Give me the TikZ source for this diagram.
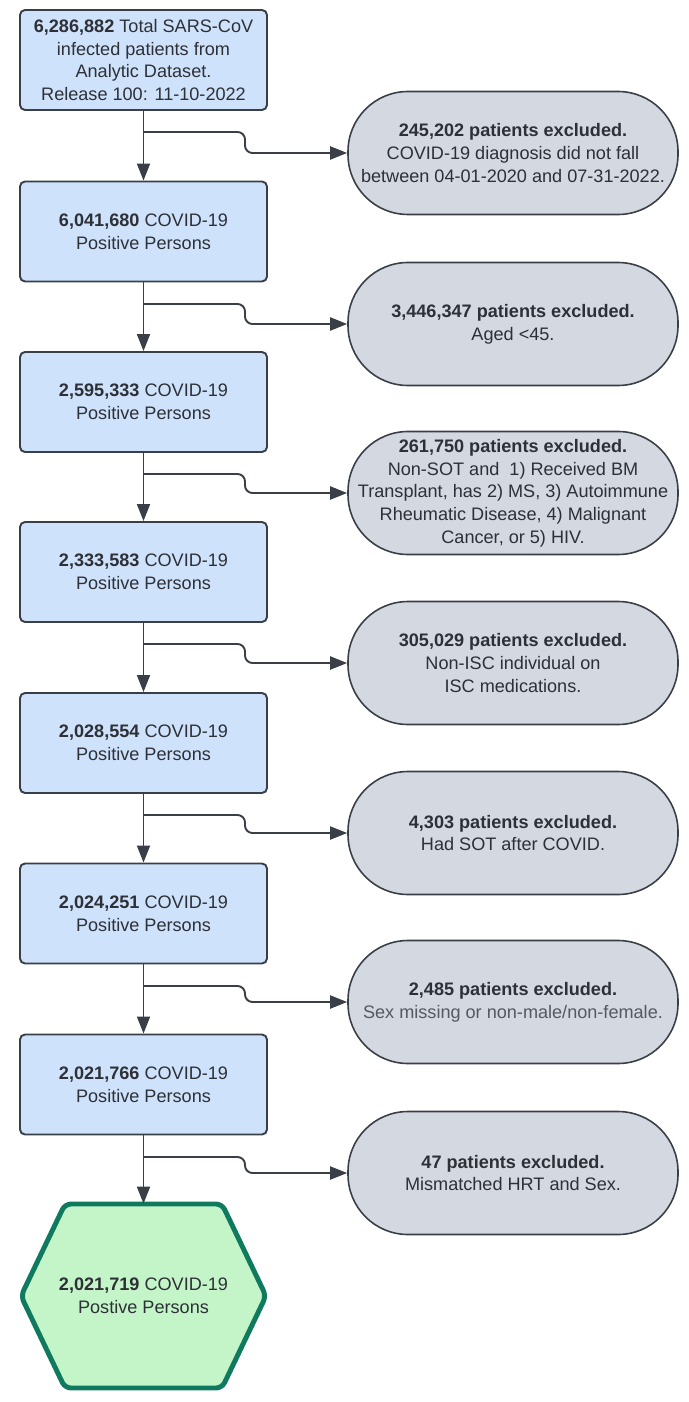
\documentclass[tikz,border=0pt]{standalone}
\usepackage{fontspec}
\setmainfont{Liberation Sans}
\usetikzlibrary{arrows.meta}
\definecolor{boxblue}{RGB}{207,226,251}
\definecolor{exgray}{RGB}{211,216,225}
\definecolor{edge}{RGB}{58,63,71}
\definecolor{ink}{RGB}{45,48,54}
\definecolor{softink}{RGB}{85,89,96}
\definecolor{hexgreen}{RGB}{196,245,201}
\definecolor{hexedge}{RGB}{16,122,94}
\begin{document}
\begin{tikzpicture}[
    countbox/.style={rectangle,rounded corners=0.1cm,draw=edge,fill=boxblue,
      line width=1.1pt,minimum width=4.94cm,minimum height=2cm,align=center,
      text=ink,font=\fontsize{10.3}{12.9}\selectfont},
    exclbox/.style={rectangle,rounded corners=1.2cm,draw=edge,fill=exgray,
      line width=0.9pt,minimum width=6.6cm,minimum height=2.46cm,align=center,
      inner sep=2pt,text=ink,font=\fontsize{10.3}{12.9}\selectfont},
    flow/.style={draw=edge,line width=1.1pt,
      -{Triangle[length=0.34cm,width=0.26cm]}},
    ]
  \useasboundingbox (0,0) rectangle (13.76,-28.04);

  \coordinate (c1) at (2.87,-1.2);
  \coordinate (c2) at (2.87,-4.63);
  \coordinate (c3) at (2.87,-8.04);
  \coordinate (c4) at (2.87,-11.44);
  \coordinate (c5) at (2.87,-14.86);
  \coordinate (c6) at (2.87,-18.27);
  \coordinate (c7) at (2.87,-21.69);
  \coordinate (c8) at (2.87,-25.92);

  \coordinate (e1) at (10.26,-3.06);
  \coordinate (e2) at (10.26,-6.48);
  \coordinate (e3) at (10.26,-9.86);
  \coordinate (e4) at (10.26,-13.26);
  \coordinate (e5) at (10.26,-16.66);
  \coordinate (e6) at (10.26,-20.04);
  \coordinate (e7) at (10.26,-23.46);

  \coordinate (s1) at (2.87,-2.64);
  \coordinate (s2) at (2.87,-6.08);
  \coordinate (s3) at (2.87,-9.48);
  \coordinate (s4) at (2.87,-12.88);
  \coordinate (s5) at (2.87,-16.30);
  \coordinate (s6) at (2.87,-19.72);
  \coordinate (s7) at (2.87,-23.14);

  \node [countbox] (b1) at (c1) {\textbf{6,286,882} Total SARS-CoV\\
    infected patients from\\Analytic Dataset.\\Release 100: 11-10-2022};
  \node [countbox] (b2) at (c2) {\textbf{6,041,680} COVID-19\\Positive Persons};
  \node [countbox] (b3) at (c3) {\textbf{2,595,333} COVID-19\\Positive Persons};
  \node [countbox] (b4) at (c4) {\textbf{2,333,583} COVID-19\\Positive Persons};
  \node [countbox] (b5) at (c5) {\textbf{2,028,554} COVID-19\\Positive Persons};
  \node [countbox] (b6) at (c6) {\textbf{2,024,251} COVID-19\\Positive Persons};
  \node [countbox] (b7) at (c7) {\textbf{2,021,766} COVID-19\\Positive Persons};

  \draw [draw=hexedge,fill=hexgreen,line width=2.8pt,rounded corners=0.12cm]
    (0.42,-25.92) -- (1.3,-24.08) -- (4.44,-24.08) -- (5.32,-25.92)
    -- (4.44,-27.76) -- (1.3,-27.76) -- cycle;
  \node [minimum width=4.94cm,minimum height=3.68cm,align=center,text=ink,
    font=\fontsize{10.3}{12.9}\selectfont] (fin) at (c8)
    {\textbf{2,021,719} COVID-19\\Postive Persons};

  \node [exclbox] (x1) at (e1) {\textbf{245,202 patients excluded.}\\
    COVID-19 diagnosis did not fall\\between 04-01-2020 and 07-31-2022.};
  \node [exclbox] (x2) at (e2) {\textbf{3,446,347 patients excluded.}\\Aged <45.};
  \node [exclbox] (x3) at (e3) {\textbf{261,750 patients excluded.}\\
    Non-SOT and\ \ 1) Received BM\\Transplant, has 2) MS, 3) Autoimmune\\
    Rheumatic Disease, 4) Malignant\\Cancer, or 5) HIV.};
  \node [exclbox] (x4) at (e4) {\textbf{305,029 patients excluded.}\\
    Non-ISC individual on\\ISC medications.};
  \node [exclbox] (x5) at (e5) {\textbf{4,303 patients excluded.}\\Had SOT after COVID.};
  \node [exclbox] (x6) at (e6) {\textbf{2,485 patients excluded.}\\
    \textcolor{softink}{Sex missing or non-male/non-female.}};
  \node [exclbox] (x7) at (e7) {\textbf{47 patients excluded.}\\Mismatched HRT and Sex.};

  \draw [flow] (b1) -- (b2);
  \draw [flow] (b2) -- (b3);
  \draw [flow] (b3) -- (b4);
  \draw [flow] (b4) -- (b5);
  \draw [flow] (b5) -- (b6);
  \draw [flow] (b6) -- (b7);
  \draw [flow] (b7) -- (fin);

  \draw [flow,rounded corners=0.15cm] (s1) -- (4.9,-2.64) |- (x1.west);
  \draw [flow,rounded corners=0.15cm] (s2) -- (4.9,-6.08) |- (x2.west);
  \draw [flow,rounded corners=0.15cm] (s3) -- (4.9,-9.48) |- (x3.west);
  \draw [flow,rounded corners=0.15cm] (s4) -- (4.9,-12.88) |- (x4.west);
  \draw [flow,rounded corners=0.15cm] (s5) -- (4.9,-16.30) |- (x5.west);
  \draw [flow,rounded corners=0.15cm] (s6) -- (4.9,-19.72) |- (x6.west);
  \draw [flow,rounded corners=0.15cm] (s7) -- (4.9,-23.14) |- (x7.west);
\end{tikzpicture}
\end{document}
